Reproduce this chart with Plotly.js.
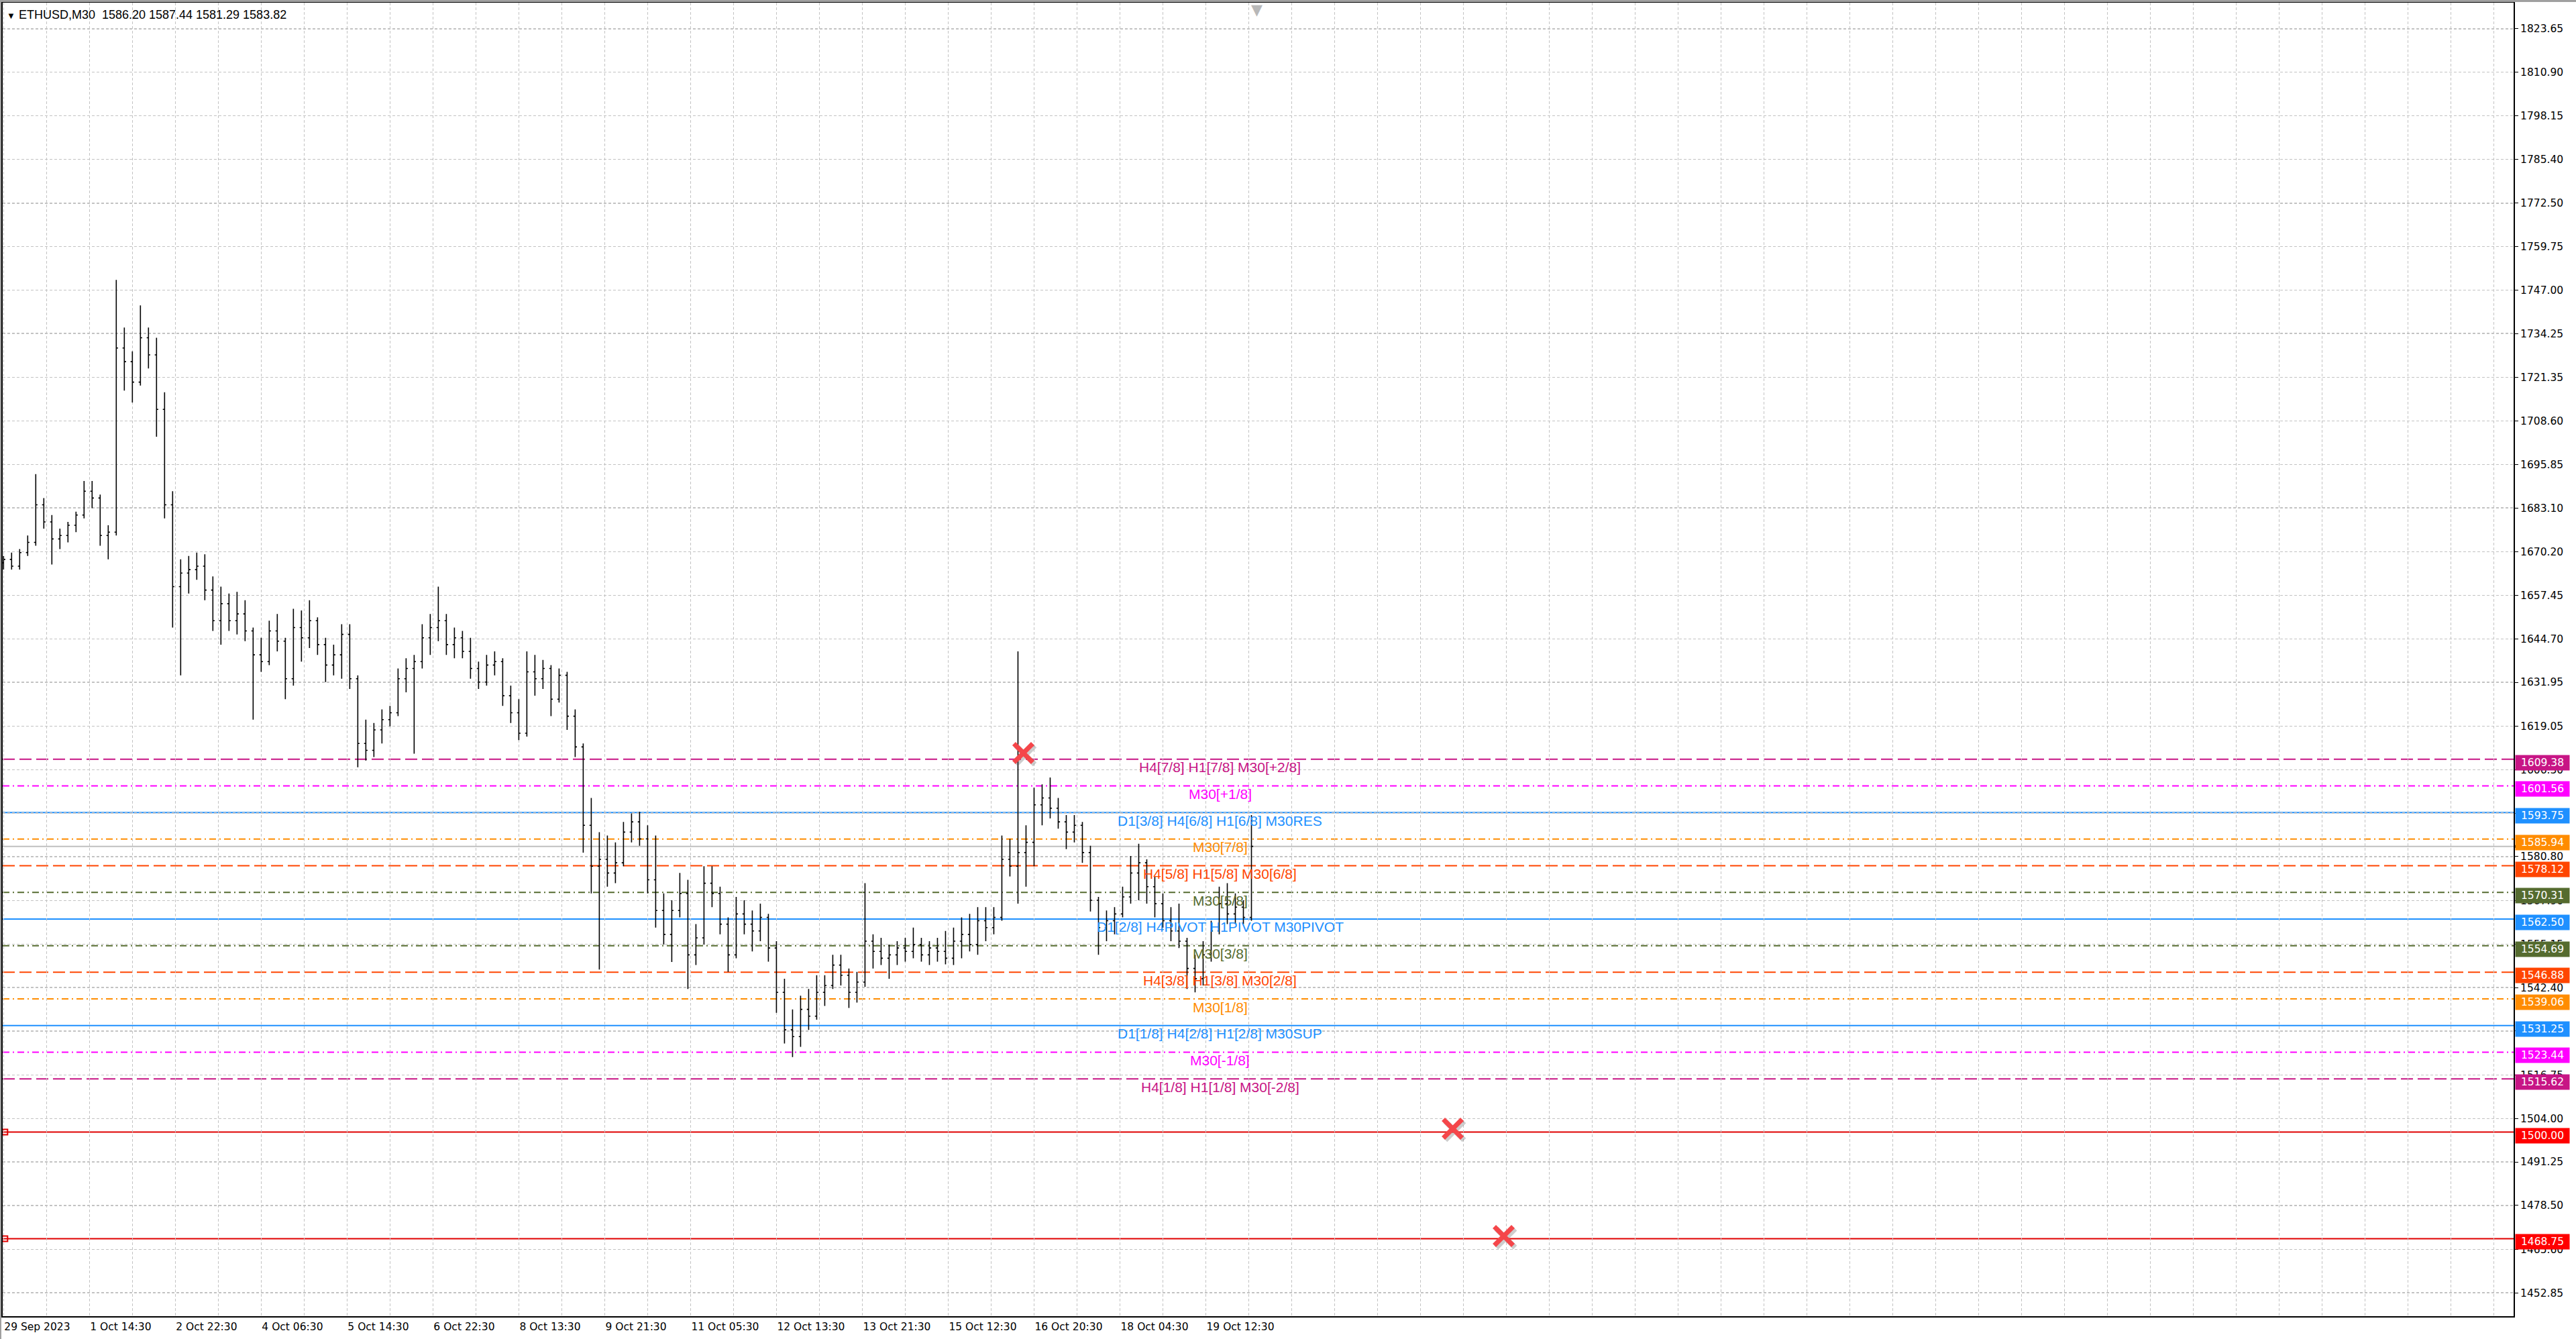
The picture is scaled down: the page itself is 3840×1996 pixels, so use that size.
<!DOCTYPE html>
<html>
<head>
<meta charset="utf-8">
<script src="https://cdn.plot.ly/plotly-3.0.1.min.js"></script>
<style>
  body { margin: 0; background: #ffffff; }
</style>
</head>
<body>
<div id="myDiv" style="width:3840px;height:1996px;"></div>
<script>
  let barStep = 6;

  let opens = [
    1667,1668,1666,1670,1673,1684,1679,1674,1675,1678,1681,1688,
    1686,1675,1676,1730,1726,1720,1733,1728,1712,1684,1660,1664,
    1665,1666,1659,1650,1655,1650,1652,1647,1640,1638,1647,1644,
    1633,1648,1645,1650,1643,1637,1640,1646,1633,1614,1612,1618,
    1621,1623,1633,1636,1638,1645,1648,1650,1643,1645,1641,1636,
    1632,1637,1638,1628,1623,1617,1635,1633,1636,1627,1634,1622,
    1613,1590,1578,1580,1576,1579,1588,1591,1586,1574,1565,1558,
    1565,1570,1552,1557,1573,1570,1561,1552,1564,1561,1559,1563,
    1554,1541,1530,1528,1536,1534,1541,1543,1549,1546,1541,1544,
    1556,1553,1551,1552,1554,1553,1555,1552,1554,1553,1551,1556,
    1558,1555,1562,1560,1563,1580,1578,1582,1585,1596,1598,1595,
    1591,1588,1590,1582,1568,1560,1562,1564,1569,1576,1579,1572,
    1567,1562,1559,1556,1548,1545,1552,1559,1567,1564,1566,1563
  ];
  let highs = [
    1669,1670,1671,1675,1693,1686,1681,1677,1679,1682,1691,1691,
    1687,1678,1750,1736,1729,1742.5,1736,1733,1717,1688,1668,1669,
    1670,1669.5,1663,1660,1658,1658.5,1656,1648,1645,1650,1652,1645,
    1653.5,1653,1656,1651,1645,1643,1649,1649,1634,1621,1620,1624,
    1625,1636,1639,1640,1649,1652,1660,1652,1648,1647,1645,1638,
    1640,1641,1639,1631,1627,1641,1640,1638.5,1637,1636,1635,1624,
    1614,1598,1588,1587,1585,1591,1593.5,1594,1590,1587,1570,1568,
    1576,1574,1561,1578,1578,1572,1563,1569,1568,1565,1567,1564,
    1556,1545,1536,1540,1542,1546,1546,1552,1552,1548,1547,1573,
    1558,1557,1555,1556,1557,1560,1557,1556,1557,1559,1560,1563,
    1564,1566,1566,1566,1587,1586,1641,1590,1601,1602,1604,1598,
    1593,1593,1591,1584,1569,1565,1566,1572,1581,1584.6,1580,1575,
    1570,1566,1567,1557,1552,1556,1562,1572,1573,1570,1568,1593
  ];
  let lows = [
    1665,1665,1665,1669,1672,1677,1666.5,1671,1673,1676,1680,1683,
    1672,1668,1675,1717.5,1714,1719,1724,1704,1680,1648,1634,1658,
    1662,1656,1647,1643,1647,1646,1644,1621,1635,1637,1641,1627,
    1631,1638,1642,1640,1632,1634,1633,1630,1607,1609,1610,1614,
    1619,1622,1629,1611,1636,1640,1644,1640,1639,1639,1633,1630,
    1631,1634,1625,1620,1615,1616,1628,1630,1622,1626,1618,1610,
    1582,1570,1547.7,1572,1573,1578,1585,1584,1570,1560,1555,1549.9,
    1563,1542,1549,1555,1566,1558,1547,1551,1558,1553,1556,1550,
    1535,1526,1522,1525,1530,1533,1537,1542,1543,1536.4,1538,1542.6,
    1548,1549,1545,1549,1550,1551,1550,1549,1550,1549.2,1549,1551,
    1553,1552,1556,1558,1562,1575,1567,1572,1578,1590,1592,1589,
    1583,1585,1579,1564.7,1552,1556,1558,1563,1567,1568,1567,1563,
    1560,1556,1554,1542,1541,1543,1550,1558,1561,1561,1561,1562
  ];
  let closes = [
    1668,1666,1670,1673,1684,1679,1674,1675,1678,1681,1688,1686,
    1675,1676,1730,1726,1720,1733,1728,1712,1684,1660,1664,1665,
    1666,1659,1650,1655,1650,1652,1647,1640,1638,1647,1644,1633,
    1648,1645,1650,1643,1637,1640,1646,1633,1614,1612,1618,1621,
    1623,1633,1636,1638,1645,1648,1650,1643,1645,1641,1636,1632,
    1637,1638,1628,1623,1617,1635,1633,1636,1627,1634,1622,1613,
    1590,1578,1580,1576,1579,1588,1591,1586,1574,1565,1558,1565,
    1570,1552,1557,1573,1570,1561,1552,1564,1561,1559,1563,1554,
    1541,1530,1528,1536,1534,1541,1543,1549,1546,1541,1544,1556,
    1553,1551,1552,1554,1553,1555,1552,1554,1553,1551,1556,1558,
    1555,1562,1560,1563,1580,1578,1582,1585,1596,1598,1595,1591,
    1588,1590,1582,1568,1560,1562,1564,1569,1576,1579,1572,1567,
    1562,1559,1556,1548,1545,1552,1559,1567,1564,1566,1563,1583.82
  ];

  // last M30 bar as shown in the header
  let headerName = 'ETHUSD,M30';
  let headerOHLC = [1586.20, 1587.44, 1581.29, 1583.82];

  // bottom time labels, one every 64 bars
  let dateLabels = ['29 Sep 2023', '1 Oct 14:30', '2 Oct 22:30', '4 Oct 06:30', '5 Oct 14:30',
    '6 Oct 22:30', '8 Oct 13:30', '9 Oct 21:30', '11 Oct 05:30', '12 Oct 13:30',
    '13 Oct 21:30', '15 Oct 12:30', '16 Oct 20:30', '18 Oct 04:30', '19 Oct 12:30'];

  // price scale labels
  let priceTicks = [1823.65, 1810.90, 1798.15, 1785.40, 1772.50, 1759.75, 1747.00, 1734.25,
    1721.35, 1708.60, 1695.85, 1683.10, 1670.20, 1657.45, 1644.70, 1631.95, 1619.05, 1606.30,
    1593.55, 1580.80, 1567.90, 1555.15, 1542.40, 1529.65, 1516.75, 1504.00, 1491.25, 1478.50,
    1465.60, 1452.85];

  // Murrey math levels
  let levelPrices = [1609.38, 1601.56, 1593.75, 1585.94, 1578.12, 1570.31, 1562.50,
    1554.69, 1546.88, 1539.06, 1531.25, 1523.44, 1515.62];
  let levelNames = ['H4[7/8] H1[7/8] M30[+2/8]', 'M30[+1/8]', 'D1[3/8] H4[6/8] H1[6/8] M30RES',
    'M30[7/8]', 'H4[5/8] H1[5/8] M30[6/8]', 'M30[5/8]', 'D1[2/8] H4PIVOT H1PIVOT M30PIVOT',
    'M30[3/8]', 'H4[3/8] H1[3/8] M30[2/8]', 'M30[1/8]', 'D1[1/8] H4[2/8] H1[2/8] M30SUP',
    'M30[-1/8]', 'H4[1/8] H1[1/8] M30[-2/8]'];

  // target lines
  let targetPrices = [1500.00, 1468.75];

  // red crosses (bar index, price)
  let crossBars = [760, 1080, 1118];
  let crossPrices = [1611.2, 1501.0, 1469.5];

  // styles
  let levelColors = ['#C71585', '#FF00FF', '#1E90FF', '#FF8C00', '#FF4500', '#556B2F', '#1E90FF',
    '#556B2F', '#FF4500', '#FF8C00', '#1E90FF', '#FF00FF', '#C71585'];
  let levelKinds = ['long', 'dotdash', 'solid', 'dotdash', 'long', 'dotdash', 'solid',
    'dotdash', 'long', 'dotdash', 'solid', 'dotdash', 'long'];
  let dashOf = { long: '18px,7px', dotdash: '10px,5px,2px,5px', solid: 'solid' };

  let plotW = 3840 - 4 - 93;
  let plotH = 1996 - 4 - 34;
  let xRange = [-0.65, 1870.65];
  let yRange = [1446.0, 1831.3];
  let gridColor = '#c3c3c3';
  let scaleFont = { family: 'DejaVu Sans, Verdana, sans-serif', size: 15.5, color: '#000000' };

  let barX = [];
  for (let i = 0; i < closes.length; i++) { barX.push(i * barStep) };
  let lastX = barX[barX.length - 1];
  let lastClose = closes[closes.length - 1];

  // time axis: a grid line every 32 bars, a label every 64
  let xTickVals = [];
  let xTickText = [];
  for (let v = 0; v <= 1870; v += 32) {
    xTickVals.push(v);
    let k = v / 64;
    xTickText.push(v % 64 === 0 && k < dateLabels.length ? dateLabels[k] : '');
  }

  let traceBars = {
    type: 'ohlc',
    x: barX,
    open: opens,
    high: highs,
    low: lows,
    close: closes,
    increasing: { line: { color: '#000000', width: 1.6 } },
    decreasing: { line: { color: '#000000', width: 1.6 } },
    tickwidth: 0.22,
    hoverinfo: 'skip'
  };

  let traceAnchors = {
    type: 'scatter',
    mode: 'markers',
    x: targetPrices.map(function () { return barX[0] + 1 }),
    y: targetPrices,
    marker: { symbol: 'square-open', size: 8, color: '#e00000', line: { width: 2, color: '#e00000' } },
    hoverinfo: 'skip'
  };

  // small soft shadow under each cross, 3 px down-right
  let pxX = (xRange[1] - xRange[0]) / plotW;
  let pxY = (yRange[1] - yRange[0]) / plotH;
  let traceCrossShadow = {
    type: 'scatter',
    mode: 'markers',
    x: crossBars.map(function (v) { return v + 3 * pxX }),
    y: crossPrices.map(function (v) { return v - 3 * pxY }),
    marker: { symbol: 'x-thin', size: 28, color: 'rgba(90,90,90,0.3)', line: { width: 8, color: 'rgba(90,90,90,0.3)' } },
    hoverinfo: 'skip'
  };

  let traceCrosses = {
    type: 'scatter',
    mode: 'markers',
    x: crossBars,
    y: crossPrices,
    marker: { symbol: 'x-thin', size: 28, color: '#f5464a', line: { width: 7, color: '#f5464a' } },
    hoverinfo: 'skip'
  };

  let shapes = [];
  let annotations = [];

  // thin grey window edges above and left of the chart frame
  shapes.push({
    type: 'rect', xref: 'paper', yref: 'paper', x0: -0.01, x1: 1.03,
    y0: 1 + 1 / plotH, y1: 1 + 4 / plotH, fillcolor: '#a0a0a0', line: { width: 0 }, layer: 'above'
  });
  shapes.push({
    type: 'rect', xref: 'paper', yref: 'paper', x0: -4 / plotW, x1: -2 / plotW,
    y0: -0.02, y1: 1.01, fillcolor: '#a0a0a0', line: { width: 0 }, layer: 'above'
  });

  for (let i = 0; i < levelPrices.length; i++) {
    let c = levelColors[i];
    shapes.push({
      type: 'line', xref: 'paper', x0: 0, x1: 1, yref: 'y', y0: levelPrices[i], y1: levelPrices[i],
      line: { color: c, width: 2, dash: dashOf[levelKinds[i]] }, layer: 'below'
    });
    annotations.push({
      xref: 'x', yref: 'y', x: 906.6, y: levelPrices[i], yshift: -12,
      xanchor: 'center', yanchor: 'middle', showarrow: false,
      text: levelNames[i],
      font: { family: 'Liberation Sans, Arial, sans-serif', size: 21, color: c }
    });
  }

  for (let i = 0; i < targetPrices.length; i++) {
    shapes.push({
      type: 'line', xref: 'paper', x0: 0, x1: 1, yref: 'y', y0: targetPrices[i], y1: targetPrices[i],
      line: { color: '#e00000', width: 2 }, layer: 'below'
    });
  }

  // bid line
  shapes.push({
    type: 'line', xref: 'paper', x0: 0, x1: 1, yref: 'y', y0: lastClose, y1: lastClose,
    line: { color: '#c0c0c0', width: 2 }, layer: 'below'
  });
  shapes.push({
    type: 'line', xref: 'paper', x0: 1 + 1 / plotW, x1: 1 + 82 / plotW, yref: 'y', y0: lastClose, y1: lastClose,
    line: { color: '#000000', width: 4 }, layer: 'above'
  });

  // price tags on the right scale
  let tagPrices = levelPrices.concat(targetPrices);
  let tagColors = levelColors.concat(targetPrices.map(function () { return '#ff0000' }));
  for (let i = 0; i < tagPrices.length; i++) {
    annotations.push({
      xref: 'paper', yref: 'y', x: 1, y: tagPrices[i], xshift: 2, yshift: -5,
      xanchor: 'left', yanchor: 'middle', showarrow: false,
      text: tagPrices[i].toFixed(2),
      bgcolor: tagColors[i], width: 78, height: 20, borderpad: 1, align: 'center',
      font: { family: 'DejaVu Sans, Verdana, sans-serif', size: 15.5, color: '#ffffff' }
    });
  }

  // header
  annotations.push({
    xref: 'paper', yref: 'paper', x: 0, y: 1, xshift: 4, yshift: -6,
    xanchor: 'left', yanchor: 'top', showarrow: false,
    text: '<span style="font-size:13px">\u25BC</span>\u00a0' + headerName + '\u00a0\u00a0' +
      headerOHLC.map(function (v) { return v.toFixed(2) }).join(' '),
    font: { family: 'Liberation Sans, Arial, sans-serif', size: 18, color: '#000000' }
  });

  // chart shift marker
  annotations.push({
    xref: 'x', yref: 'paper', x: lastX + 4, y: 1, yshift: 4,
    xanchor: 'center', yanchor: 'top', showarrow: false,
    text: '\u25BC',
    font: { family: 'DejaVu Sans, sans-serif', size: 22, color: '#b8b8b8' }
  });

  let layout = {
    width: 3840,
    height: 1996,
    margin: { l: 4, r: 93, t: 4, b: 34 },
    paper_bgcolor: '#ffffff',
    plot_bgcolor: '#ffffff',
    showlegend: false,
    dragmode: false,
    xaxis: {
      type: 'linear',
      range: xRange,
      tickmode: 'array',
      tickvals: xTickVals,
      ticktext: xTickText,
      ticks: '',
      ticklabelposition: 'outside right',
      tickfont: scaleFont,
      showgrid: true,
      gridcolor: gridColor,
      griddash: '4px,3px',
      gridwidth: 1.5,
      zeroline: false,
      showline: true,
      mirror: true,
      linecolor: '#000000',
      linewidth: 2,
      rangeslider: { visible: false },
      fixedrange: true
    },
    yaxis: {
      side: 'right',
      range: yRange,
      tickmode: 'array',
      tickvals: priceTicks,
      ticktext: priceTicks.map(function (v) { return v.toFixed(2) }),
      ticks: 'outside',
      ticklen: 5,
      tickcolor: '#000000',
      tickfont: scaleFont,
      showgrid: true,
      gridcolor: gridColor,
      griddash: '4px,3px',
      gridwidth: 1.5,
      zeroline: false,
      showline: true,
      mirror: true,
      linecolor: '#000000',
      linewidth: 2,
      fixedrange: true
    },
    shapes: shapes,
    annotations: annotations
  };

  Plotly.newPlot('myDiv', [traceBars, traceAnchors, traceCrossShadow, traceCrosses], layout, { staticPlot: true });
</script>
</body>
</html>
